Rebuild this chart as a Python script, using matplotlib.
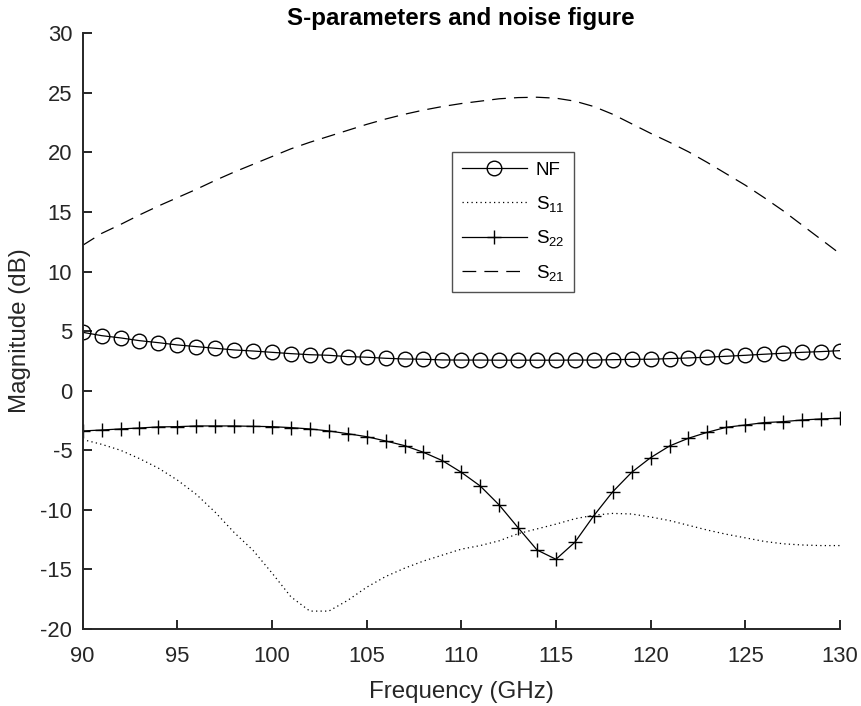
import matplotlib
matplotlib.use("Agg")
import matplotlib.pyplot as plt

plt.rcParams['font.family'] = ['Liberation Sans', 'DejaVu Sans']
plt.rcParams['mathtext.fontset'] = 'custom'
plt.rcParams['mathtext.rm'] = 'Liberation Sans'
plt.rcParams['mathtext.it'] = 'Liberation Sans:italic'
plt.rcParams['mathtext.bf'] = 'Liberation Sans:bold'

# ---- data ----
freq = list(range(90, 131))

nf = [4.90, 4.62, 4.43, 4.20, 4.03, 3.84, 3.70, 3.56, 3.42, 3.33,
      3.22, 3.11, 3.02, 2.97, 2.86, 2.81, 2.72, 2.66, 2.64, 2.58,
      2.57, 2.57, 2.56, 2.56, 2.56, 2.56, 2.57, 2.57, 2.60, 2.63,
      2.64, 2.69, 2.75, 2.81, 2.89, 2.97, 3.06, 3.14, 3.22, 3.28, 3.36]

s11 = [-4.1, -4.5, -5.0, -5.7, -6.5, -7.5, -8.7, -10.2, -11.9, -13.4,
       -15.3, -17.3, -18.5, -18.5, -17.6, -16.5, -15.6, -14.9, -14.3, -13.8,
       -13.3, -13.0, -12.6, -12.0, -11.6, -11.2, -10.75, -10.45, -10.3, -10.35,
       -10.6, -10.9, -11.3, -11.7, -12.05, -12.35, -12.65, -12.85, -12.95, -13.0, -13.0]

s22 = [-3.38, -3.30, -3.21, -3.13, -3.04, -3.02, -2.96, -2.96, -2.96, -2.99,
       -3.02, -3.10, -3.21, -3.38, -3.61, -3.86, -4.22, -4.61, -5.17, -5.87,
       -6.85, -8.00, -9.59, -11.50, -13.37, -14.15, -12.72, -10.49, -8.48, -6.85,
       -5.62, -4.64, -3.99, -3.49, -3.07, -2.88, -2.68, -2.60, -2.46, -2.37, -2.31]

s21 = [12.2, 13.2, 13.95, 14.75, 15.5, 16.2, 16.9, 17.65, 18.35, 19.0,
       19.65, 20.3, 20.85, 21.35, 21.85, 22.35, 22.8, 23.2, 23.55, 23.85,
       24.1, 24.3, 24.5, 24.6, 24.63, 24.55, 24.3, 23.85, 23.2, 22.4,
       21.6, 20.85, 20.05, 19.15, 18.2, 17.25, 16.2, 15.1, 13.9, 12.7, 11.5]

labels = ['NF', r'S$_{\mathrm{11}}$', r'S$_{\mathrm{22}}$', r'S$_{\mathrm{21}}$']
xticks = [90, 95, 100, 105, 110, 115, 120, 125, 130]
yticks = [-20, -15, -10, -5, 0, 5, 10, 15, 20, 25, 30]

# ---- figure ----
fig = plt.figure(figsize=(8.62, 7.06), dpi=100)
ax = fig.add_axes([0.0959, 0.1091, 0.8785, 0.8438])

axc = '#262626'
ax.plot(freq, nf, color='k', lw=0.9, marker='o', ms=10.5, mfc='none',
        mec='k', mew=1.0, label=labels[0])
ax.plot(freq, s11, color='k', lw=0.9, linestyle=(0, (1, 2.6)), label=labels[1])
ax.plot(freq, s22, color='k', lw=0.9, marker='+', ms=10, mew=1.0,
        label=labels[2])
ax.plot(freq, s21, color='k', lw=0.9, linestyle=(0, (11, 6.5)), label=labels[3])

ax.set_xlim(90, 130)
ax.set_ylim(-20, 30)
ax.set_xticks(xticks)
ax.set_yticks(yticks)
ax.set_xticklabels([str(v) for v in xticks])
ax.set_yticklabels([str(v) for v in yticks])

for s in ['top', 'right']:
    ax.spines[s].set_visible(False)
for s in ['left', 'bottom']:
    ax.spines[s].set_color(axc)
    ax.spines[s].set_linewidth(1.4)

ax.tick_params(axis='both', direction='in', length=6.5, width=1.4,
               colors=axc, labelsize=15.8)
ax.tick_params(axis='x', pad=12)
ax.tick_params(axis='y', pad=7.5)

ax.set_xlabel('Frequency (GHz)', fontsize=17.4, color=axc, labelpad=10)
ax.set_ylabel('Magnitude (dB)', fontsize=17.4, color=axc, labelpad=7)
ax.set_title('S-parameters and noise figure', fontsize=17.4, fontweight='bold',
             color='k', pad=6)

leg = ax.legend(loc='upper left', bbox_to_anchor=(0.488, 0.800),
                fontsize=13.5, frameon=True, fancybox=False, shadow=False,
                handlelength=3.5, handletextpad=0.45, labelspacing=0.78,
                borderpad=0.5, borderaxespad=0.0)
leg.get_frame().set_edgecolor(axc)
leg.get_frame().set_linewidth(1.0)
for t in leg.get_texts():
    t.set_color('k')

fig.savefig('out.png', dpi=100)
